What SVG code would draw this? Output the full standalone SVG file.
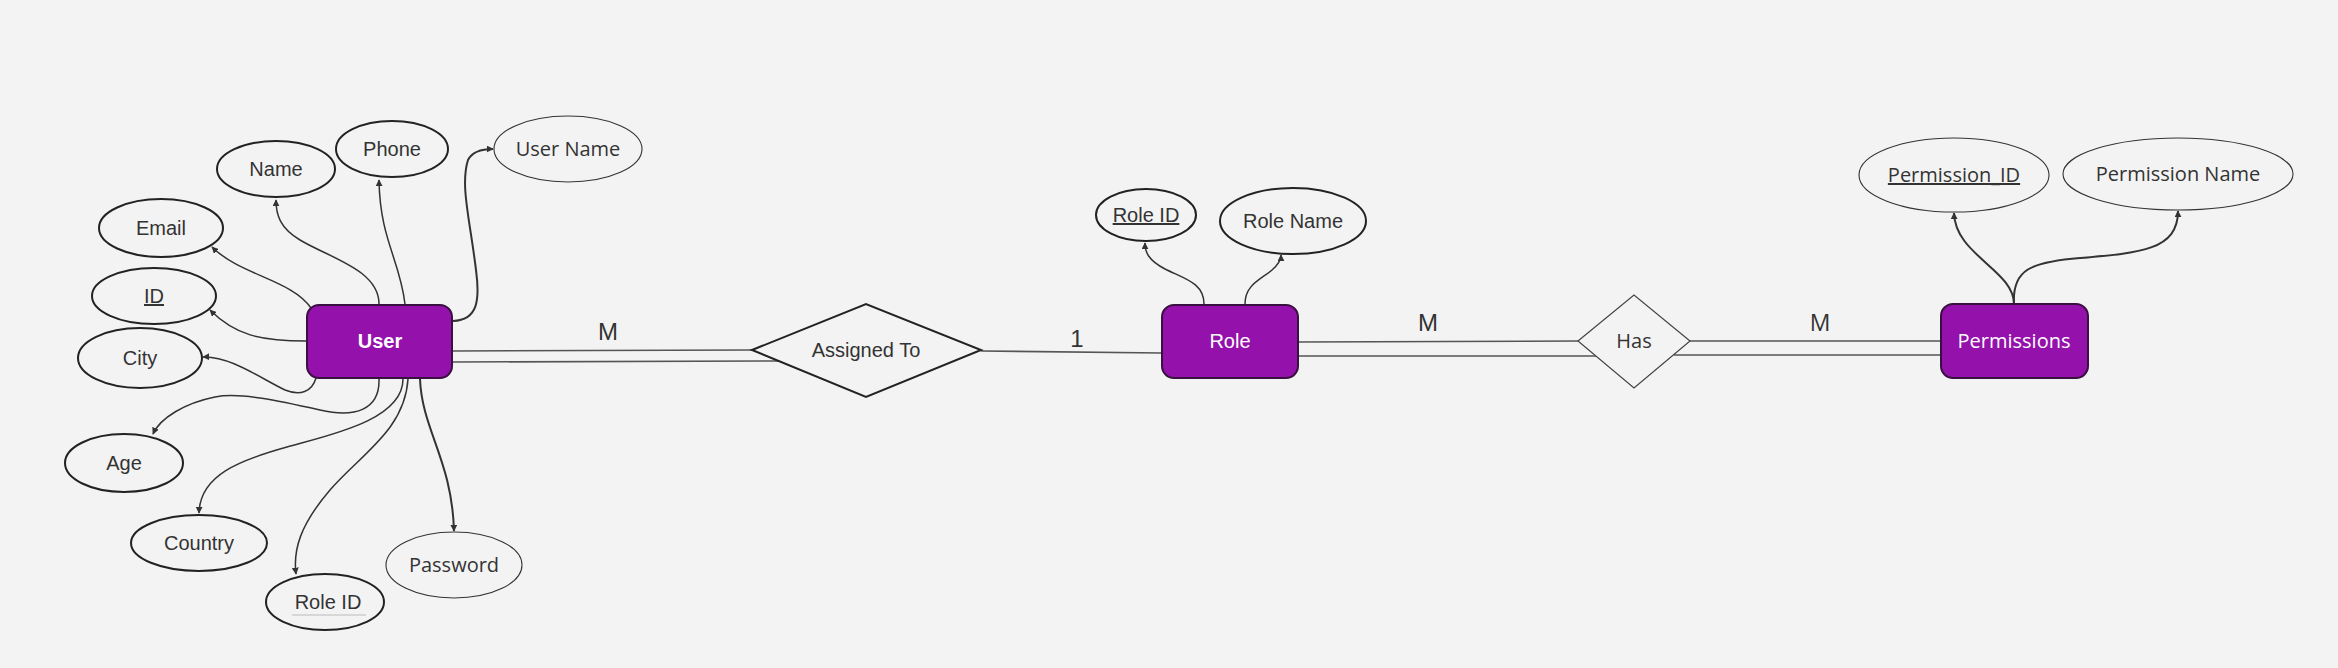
<svg xmlns="http://www.w3.org/2000/svg" width="2338" height="668" viewBox="0 0 2338 668">
<defs>
<marker id="arr" viewBox="0 0 10 10" refX="9" refY="5" markerWidth="7" markerHeight="7" markerUnits="userSpaceOnUse" orient="auto">
<path d="M0,0 L10,5 L0,10 Z" fill="#333"/>
</marker>
<style>
.bg{fill:#f3f3f3}
.ent{fill:#9511ac;stroke:#3a1040;stroke-width:2}
.att{fill:#f3f3f3;stroke:#222;stroke-width:2}
.att2{fill:#f3f3f3;stroke:#333;stroke-width:1.1}
.rel{fill:#f3f3f3;stroke:#222;stroke-width:2}
.rel2{fill:#f3f3f3;stroke:#444;stroke-width:1.2}
.t{font-family:"Liberation Sans",Arial,sans-serif;font-size:20px;fill:#333;text-anchor:middle}
.o{font-family:"Open Sans","Liberation Sans",sans-serif;font-size:20px;fill:#333;text-anchor:middle}
.w{font-family:"Liberation Sans",Arial,sans-serif;font-size:20px;fill:#fff;text-anchor:middle}
.wo{font-family:"Open Sans","Liberation Sans",sans-serif;font-size:20px;fill:#fff;text-anchor:middle}
.u{text-decoration:underline}
.lbl{font-family:"Liberation Sans",Arial,sans-serif;font-size:24px;fill:#333;text-anchor:middle}
.lblo{font-family:"Open Sans","Liberation Sans",sans-serif;font-size:23px;fill:#333;text-anchor:middle}
.c{fill:none;stroke:#333;stroke-width:1.5;marker-end:url(#arr)}
.c2{fill:none;stroke:#333;stroke-width:2;marker-end:url(#arr)}
.ln{fill:none;stroke:#555;stroke-width:1.6}
</style>
</defs>
<rect class="bg" x="0" y="0" width="2338" height="668"/>

<g id="connectors">
<path class="c" d="M311,308 C292,280 240,275 212,247"/>
<path class="c" d="M379,304 C379,270 330,258 300,240 C280,228 276,215 276,200"/>
<path class="c" d="M405,304 C400,260 380,240 379,180"/>
<path class="c2" d="M453,321 C478,320 480,300 476,270 C470,220 460,185 468,160 C472,152 480,149 493,149"/>
<path class="c" d="M306,341 C260,341 235,335 210,310"/>
<path class="c" d="M316,378 C312,392 300,396 285,390 C260,378 230,356 203,357"/>
<path class="c" d="M379,379 C380,410 355,418 320,410 C280,401 240,392 215,397 C185,403 160,418 153,434"/>
<path class="c" d="M403,379 C403,420 330,435 287,447 C240,460 200,475 199,513"/>
<path class="c" d="M408,379 C405,430 360,455 330,490 C300,525 293,550 296,574"/>
<path class="c2" d="M420,379 C422,430 452,460 454,531"/>
<path class="c" d="M1204,304 C1204,283 1185,279 1165,269 C1148,260 1145,252 1145,243"/>
<path class="c" d="M1245,304 C1245,285 1260,280 1272,270 C1280,263 1281,258 1281,255"/>
<path class="c2" d="M2014,304 C2014,270 1955,255 1954,213"/>
<path class="c2" d="M2014,304 C2012,270 2030,262 2080,258 C2140,253 2178,250 2178,211"/>
<path class="ln" d="M452,351 L752,350"/>
<path class="ln" d="M452,362 L779,361"/>
<path class="ln" d="M981,351 L1161,353"/>
<path class="ln" d="M1298,342 L1578,341"/>
<path class="ln" d="M1298,356 L1596,356"/>
<path class="ln" d="M1690,341 L1941,341"/>
<path class="ln" d="M1674,355 L1941,355"/>
<text class="lbl" x="608" y="340">M</text>
<text class="lbl" x="1077" y="347">1</text>
<text class="lbl" x="1428" y="331">M</text>
<text class="lblo" x="1820" y="331">M</text>
</g>

<g id="user">
<rect class="ent" x="307" y="305" width="145" height="73" rx="12"/>
<text class="w" x="380" y="348" font-weight="bold">User</text>
</g>
<g id="role">
<rect class="ent" x="1162" y="305" width="136" height="73" rx="12"/>
<text class="w" x="1230" y="348">Role</text>
</g>
<g id="permissions">
<rect class="ent" x="1941" y="304" width="147" height="74" rx="12"/>
<text class="wo" x="2014" y="348">Permissions</text>
</g>

<g id="assigned-to">
<polygon class="rel" points="752,350 866,304 981,350 866,397"/>
<text class="t" x="866" y="357">Assigned To</text>
</g>
<g id="has">
<polygon class="rel2" points="1578,341 1634,295 1690,341 1634,388"/>
<text class="o" x="1634" y="348">Has</text>
</g>

<g id="attr-name">
<ellipse class="att" cx="276" cy="169" rx="59" ry="28"/>
<text class="t" x="276" y="176">Name</text>
</g>
<g id="attr-phone">
<ellipse class="att" cx="392" cy="149" rx="56" ry="28"/>
<text class="t" x="392" y="156">Phone</text>
</g>
<g id="attr-username">
<ellipse class="att2" cx="568" cy="149" rx="74" ry="33"/>
<text class="o" x="568" y="156">User Name</text>
</g>
<g id="attr-email">
<ellipse class="att" cx="161" cy="228" rx="62" ry="29"/>
<text class="t" x="161" y="235">Email</text>
</g>
<g id="attr-id">
<ellipse class="att" cx="154" cy="296" rx="62" ry="28"/>
<text class="t u" x="154" y="303">ID</text>
</g>
<g id="attr-city">
<ellipse class="att" cx="140" cy="358" rx="62" ry="30"/>
<text class="t" x="140" y="365">City</text>
</g>
<g id="attr-age">
<ellipse class="att" cx="124" cy="463" rx="59" ry="29"/>
<text class="t" x="124" y="470">Age</text>
</g>
<g id="attr-country">
<ellipse class="att" cx="199" cy="543" rx="68" ry="28"/>
<text class="t" x="199" y="550">Country</text>
</g>
<g id="attr-user-roleid">
<ellipse class="att" cx="325" cy="602" rx="59" ry="28"/>
<text class="t" x="328" y="609">Role ID</text>
<line x1="292" y1="615" x2="366" y2="615" stroke="#bbb" stroke-width="1.2"/>
</g>
<g id="attr-password">
<ellipse class="att2" cx="454" cy="565" rx="68" ry="33"/>
<text class="o" x="454" y="572">Password</text>
</g>

<g id="attr-role-id">
<ellipse class="att" cx="1146" cy="215" rx="50" ry="26"/>
<text class="t u" x="1146" y="222">Role ID</text>
</g>
<g id="attr-role-name">
<ellipse class="att" cx="1293" cy="221" rx="73" ry="33"/>
<text class="t" x="1293" y="228">Role Name</text>
</g>

<g id="attr-permission-id">
<ellipse class="att2" cx="1954" cy="175" rx="95" ry="37"/>
<text class="o u" x="1954" y="182">Permission_ID</text>
</g>
<g id="attr-permission-name">
<ellipse class="att2" cx="2178" cy="174" rx="115" ry="36"/>
<text class="o" x="2178" y="181">Permission Name</text>
</g>
</svg>
